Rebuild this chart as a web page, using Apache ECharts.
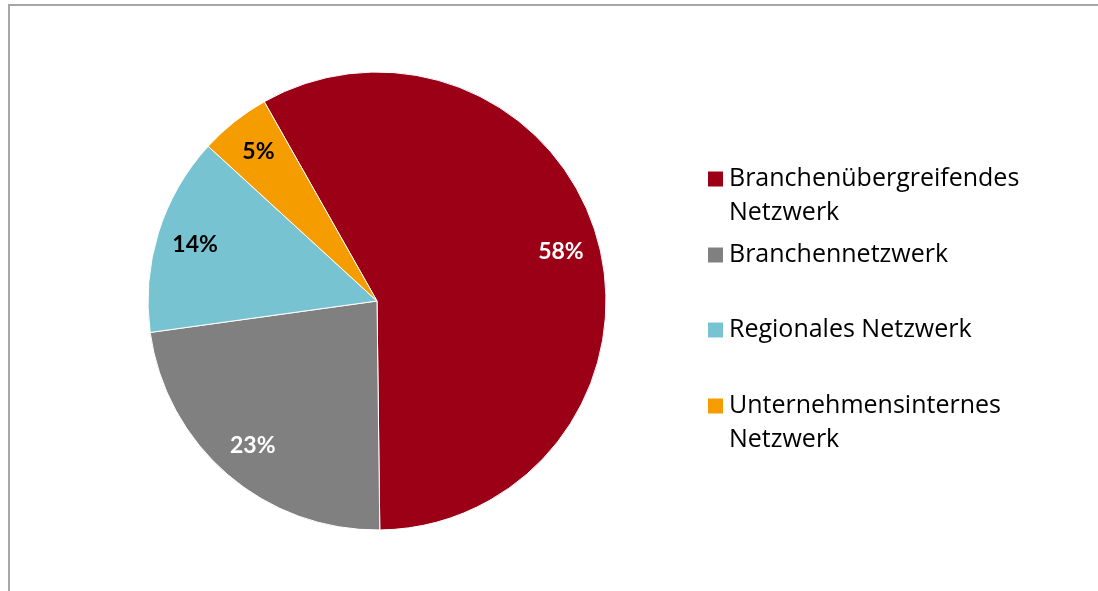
<!DOCTYPE html>
<html>
<head>
<meta charset="utf-8">
<script src="https://cdn.jsdelivr.net/npm/echarts@6/dist/echarts.min.js"></script>
<style>
  html, body { margin: 0; padding: 0; background: #fff; }
  #chart { width: 1098px; height: 591px; }
</style>
</head>
<body>
<div id="chart"></div>
<script>
// Kategorien (Legendentext mit Zeilenumbruch) und Anteile in Prozent
const categories = [
  'Branchenübergreifendes\nNetzwerk',
  'Branchennetzwerk',
  'Regionales Netzwerk',
  'Unternehmensinternes\nNetzwerk'
];
const shares = [58, 23, 14, 5];

const sliceColors = ['#9C0016', '#808080', '#78C3D1', '#F59C00'];
const labelColors = ['#ffffff', '#ffffff', '#000000', '#000000'];

const LEGEND_FONT = '"Open Sans", Lato, sans-serif';
const LABEL_FONT = 'Lato, "Open Sans", sans-serif';
const LINE_H = 34;

const chart = echarts.init(document.getElementById('chart'), null, { renderer: 'canvas' });

const pieData = categories.map((name, i) => ({
  name: name,
  value: shares[i],
  itemStyle: { color: sliceColors[i] }
}));

const labelData = categories.map((name, i) => ({
  name: name,
  value: shares[i],
  label: { color: labelColors[i] }
}));

// Legend: one component per entry; two-line entries get an empty first line
// so the colour square lines up with the first line of text
const legendCenters = [179, 255, 330, 406];
const legends = categories.map((name, i) => {
  const twoLines = name.indexOf('\n') >= 0;
  const top = twoLines ? legendCenters[i] - LINE_H * 1.5 : legendCenters[i] - LINE_H / 2;
  return {
    orient: 'vertical',
    left: 706,
    top: top,
    padding: 0,
    icon: 'rect',
    itemWidth: 17,
    itemHeight: 17,
    selectedMode: false,
    data: [name],
    formatter: n => (n.indexOf('\n') >= 0 ? ' \n' + n : n),
    textStyle: {
      fontFamily: LEGEND_FONT,
      fontSize: 25,
      color: '#000',
      lineHeight: LINE_H
    }
  };
});

chart.setOption({
  animation: false,
  backgroundColor: '#fff',
  legend: legends,
  graphic: [{
    type: 'rect',
    shape: { x: 9, y: 5, width: 1200, height: 700 },
    style: { fill: 'none', stroke: '#a6a6a6', lineWidth: 2 },
    silent: true,
    z: 0
  }],
  series: [
    {
      name: 'Netzwerke',
      type: 'pie',
      center: [377, 301],
      radius: 229,
      startAngle: 119.5,
      clockwise: true,
      avoidLabelOverlap: false,
      label: { show: false },
      labelLine: { show: false },
      emphasis: { disabled: true },
      itemStyle: { borderColor: '#ffffff', borderWidth: 1 },
      data: pieData,
      z: 2
    },
    {
      // transparent ring that carries the percentage labels
      name: 'Beschriftung',
      type: 'pie',
      center: [377, 301],
      radius: [146, 229],
      startAngle: 119.5,
      clockwise: true,
      silent: true,
      avoidLabelOverlap: false,
      itemStyle: { color: 'rgba(0,0,0,0)', borderWidth: 0 },
      emphasis: { disabled: true },
      label: {
        show: true,
        position: 'inside',
        formatter: '{c}%',
        fontFamily: LABEL_FONT,
        fontWeight: 'bold',
        fontSize: 23
      },
      labelLine: { show: false },
      data: labelData,
      z: 3
    }
  ]
});
</script>
</body>
</html>
